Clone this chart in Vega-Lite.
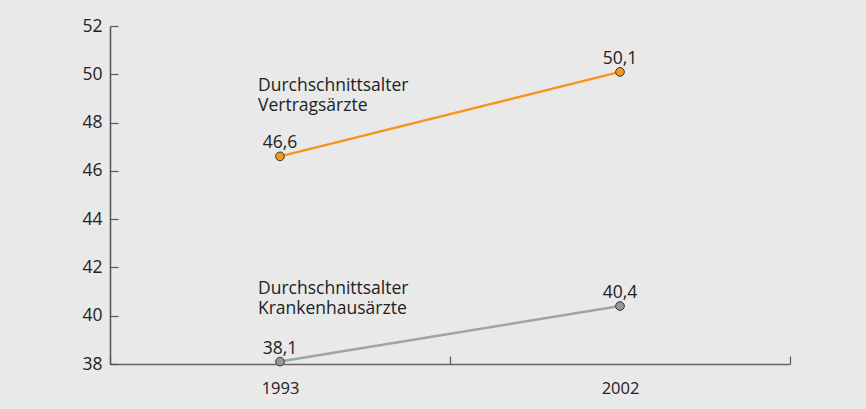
{
  "$schema": "https://vega.github.io/schema/vega-lite/v6.json",
  "width": 680,
  "height": 338,
  "autosize": "none",
  "padding": {"left": 110, "top": 26, "right": 76, "bottom": 45},
  "background": "#e8e9e8",
  "config": {
    "view": {"stroke": null},
    "font": "Open Sans",
    "axis": {"labelFont": "Open Sans", "labelColor": "#222222", "grid": false, "domainColor": "#555555", "tickColor": "#555555", "domainWidth": 1.5, "tickWidth": 1.2}
  },
  "datasets": {
    "points": [
      {"year": "1993", "value": 46.6, "label": "46,6", "series": "Vertragsärzte"},
      {"year": "2002", "value": 50.1, "label": "50,1", "series": "Vertragsärzte"},
      {"year": "1993", "value": 38.1, "label": "38,1", "series": "Krankenhausärzte"},
      {"year": "2002", "value": 40.4, "label": "40,4", "series": "Krankenhausärzte"}
    ],
    "notes": [
      {"year": "1993", "value": 49.9, "text": "Durchschnittsalter\nVertragsärzte"},
      {"year": "1993", "value": 41.5, "text": "Durchschnittsalter\nKrankenhausärzte"}
    ]
  },
  "encoding": {
    "x": {
      "field": "year", "type": "ordinal",
      "scale": {"paddingInner": 0, "paddingOuter": 0},
      "axis": {"title": null, "labelAngle": 0, "labelFontSize": 16.5, "labelPadding": 24, "tickBand": "extent", "tickSize": -8, "domainColor": "#666666"}
    },
    "y": {
      "field": "value", "type": "quantitative",
      "scale": {"domain": [38, 52], "nice": false, "zero": false},
      "axis": {"title": null, "values": [38, 40, 42, 44, 46, 48, 50, 52], "labelFontSize": 17.5, "labelPadding": 16, "tickSize": -8}
    }
  },
  "layer": [
    {
      "data": {"name": "points"},
      "mark": {"type": "line", "strokeWidth": 2.5},
      "encoding": {
        "detail": {"field": "series"},
        "color": {"field": "series", "type": "nominal", "legend": null,
          "scale": {"domain": ["Vertragsärzte", "Krankenhausärzte"], "range": ["#f7941d", "#9aa8a2"]}}
      }
    },
    {
      "data": {"name": "points"},
      "mark": {"type": "point", "filled": true, "size": 75, "stroke": "#333333", "strokeWidth": 1, "opacity": 1},
      "encoding": {
        "fill": {"field": "series", "type": "nominal", "legend": null,
          "scale": {"domain": ["Vertragsärzte", "Krankenhausärzte"], "range": ["#f39a1e", "#939c97"]}}
      }
    },
    {
      "data": {"name": "points"},
      "mark": {"type": "text", "fontSize": 17.5, "dy": -13, "color": "#222222"},
      "encoding": {"text": {"field": "label"}}
    },
    {
      "data": {"name": "notes"},
      "mark": {"type": "text", "fontSize": 17.5, "align": "left", "baseline": "top", "dx": -22, "lineBreak": "\n", "lineHeight": 20, "color": "#222222"},
      "encoding": {"text": {"field": "text"}}
    }
  ]
}
